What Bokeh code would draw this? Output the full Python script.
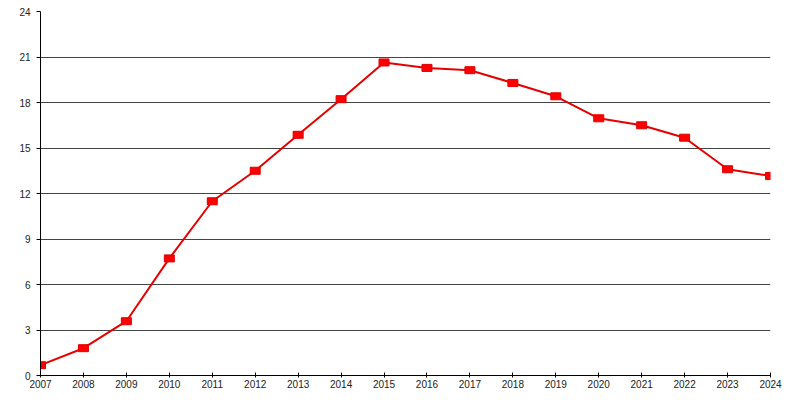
from bokeh.plotting import figure
from bokeh.models import FixedTicker, ColumnDataSource, Range1d
from bokeh.embed import file_html
from bokeh.resources import INLINE

years = [2007, 2008, 2009, 2010, 2011, 2012, 2013, 2014, 2015,
         2016, 2017, 2018, 2019, 2020, 2021, 2022, 2023, 2024]
values = [0.68, 1.8, 3.58, 7.72, 11.49, 13.5, 15.87, 18.22, 20.64,
          20.28, 20.13, 19.29, 18.41, 16.96, 16.5, 15.68, 13.6, 13.16]
y_ticks = [0, 3, 6, 9, 12, 15, 18, 21, 24]

src = ColumnDataSource(data=dict(x=years, y=values))

p = figure(width=800, height=400, output_backend="svg", toolbar_location=None,
           x_range=Range1d(2007, 2024), y_range=Range1d(0, 24),
           min_border_left=40, min_border_right=30, min_border_top=11, min_border_bottom=25)
p.outline_line_color = None
p.background_fill_color = "white"
p.border_fill_color = "white"

p.xgrid.grid_line_color = None
p.ygrid.grid_line_color = "#444444"
p.ygrid.grid_line_width = 1
p.ygrid.ticker = FixedTicker(ticks=y_ticks)

p.xaxis.ticker = FixedTicker(ticks=years)
p.yaxis.ticker = FixedTicker(ticks=y_ticks)
for ax in (p.xaxis, p.yaxis):
    ax.axis_line_color = "black"
    ax.axis_line_width = 1
    ax.major_tick_line_color = "black"
    ax.minor_tick_line_color = None
    ax.major_label_text_font = "Liberation Sans"
    ax.major_label_text_font_size = "10px"
    ax.major_label_text_color = "#222222"
p.xaxis.major_tick_in = 3
p.xaxis.major_tick_out = 2
p.xaxis.major_label_standoff = 2
p.yaxis.major_tick_in = 0
p.yaxis.major_tick_out = 4
p.yaxis.major_label_standoff = 6

p.line("x", "y", source=src, line_color="#e60000", line_width=2)
p.rect("x", "y", source=src, width=10, height=7, width_units="screen", height_units="screen",
       fill_color="#ff0000", line_color="#e00000")

open("out.html", "w").write(file_html(p, INLINE))
